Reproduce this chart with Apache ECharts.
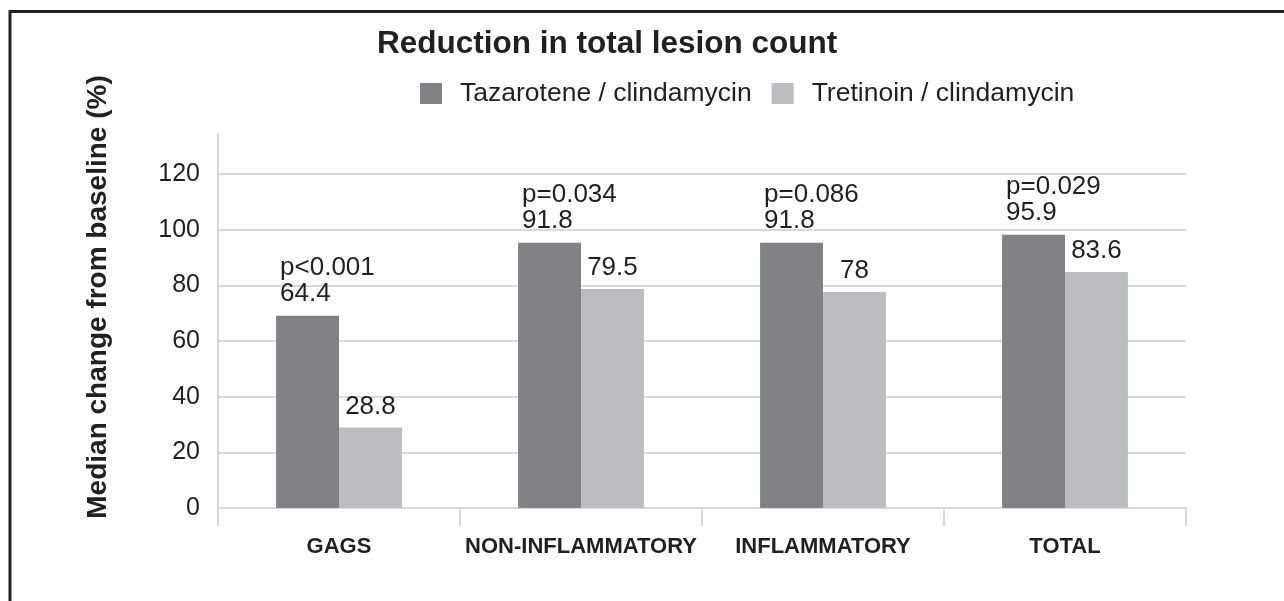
<!DOCTYPE html>
<html>
<head>
<meta charset="utf-8">
<title>Reduction in total lesion count</title>
<script src="https://cdn.jsdelivr.net/npm/echarts@6/dist/echarts.min.js"></script>
<style>
  html, body { margin: 0; padding: 0; background: #fff; }
  #chart { width: 1284px; height: 601px; }
</style>
</head>
<body>
<div id="chart"></div>
<script>
// categories and values
const categories = ['GAGS', 'NON-INFLAMMATORY', 'INFLAMMATORY', 'TOTAL']
const seriesNames = ['Tazarotene / clindamycin', 'Tretinoin / clindamycin']
// bar heights as drawn in the figure
const tazValues = [69.1, 95.3, 95.3, 98.2]
const tretValues = [28.9, 78.7, 77.6, 84.8]
// printed labels
const tazLabels = ['64.4', '91.8', '91.8', '95.9']
const tretLabels = ['28.8', '79.5', '78', '83.6']
const pValues = ['p<0.001', 'p=0.034', 'p=0.086', 'p=0.029']
const yMin = 0
const yMax = 120
const yStep = 20

const font = '"Liberation Sans", Arial, Helvetica, sans-serif'
const textColor = '#231f20'
const gridColor = '#d9d9d9'
const darkBar = '#818285'
const lightBar = '#bcbdc0'

const chart = echarts.init(document.getElementById('chart'), null, { renderer: 'canvas' })

chart.setOption({
  animation: false,
  backgroundColor: '#fff',
  textStyle: { fontFamily: font, color: textColor },
  title: {
    text: 'Reduction in total lesion count',
    left: 377,
    top: 28,
    padding: 0,
    textStyle: { fontFamily: font, fontSize: 31.5, fontWeight: 'bold', color: textColor }
  },
  legend: {
    data: seriesNames,
    left: 420,
    top: 80,
    padding: 0,
    icon: 'rect',
    itemWidth: 22,
    itemHeight: 21,
    itemGap: 20,
    textStyle: { fontFamily: font, fontSize: 26.5, color: textColor, padding: [0, 0, 0, 13], lineHeight: 26 }
  },
  grid: {
    left: 218,
    right: 98,
    top: 174,
    bottom: 93,
    containLabel: false
  },
  xAxis: {
    type: 'category',
    data: categories,
    axisLine: { lineStyle: { color: gridColor, width: 2 } },
    axisTick: { show: true, interval: 0, length: 18, lineStyle: { color: gridColor, width: 2 } },
    axisLabel: {
      interval: 0,
      margin: 28,
      fontFamily: font,
      fontSize: 22,
      fontWeight: 'bold',
      color: textColor
    }
  },
  yAxis: {
    type: 'value',
    min: yMin,
    max: yMax,
    interval: yStep,
    axisLine: { show: true, lineStyle: { color: gridColor, width: 2 } },
    axisTick: { show: false },
    splitLine: { lineStyle: { color: gridColor, width: 2 } },
    axisLabel: { margin: 18, fontFamily: font, fontSize: 25, color: textColor }
  },
  series: [{
    name: seriesNames[0],
    type: 'bar',
    data: tazValues,
    barWidth: '26%',
    barGap: '0%',
    itemStyle: { color: darkBar },
    label: {
      show: true,
      position: [4, -9],
      align: 'left',
      verticalAlign: 'bottom',
      fontFamily: font,
      fontSize: 26,
      lineHeight: 26,
      color: textColor,
      formatter: p => pValues[p.dataIndex] + '\n' + tazLabels[p.dataIndex]
    }
  }, {
    name: seriesNames[1],
    type: 'bar',
    data: tretValues,
    barWidth: '26%',
    barGap: '0%',
    itemStyle: { color: lightBar },
    label: {
      show: true,
      position: 'top',
      distance: 8,
      fontFamily: font,
      fontSize: 26,
      lineHeight: 26,
      color: textColor,
      formatter: p => tretLabels[p.dataIndex]
    }
  }],
  graphic: [{
    // outer frame
    type: 'rect',
    silent: true,
    shape: { x: 10, y: 11.5, width: 1400, height: 800 },
    style: { fill: 'none', stroke: textColor, lineWidth: 3 }
  }, {
    // y axis line runs a bit above the top gridline
    type: 'line',
    silent: true,
    shape: { x1: 218, y1: 133, x2: 218, y2: 174 },
    style: { stroke: gridColor, lineWidth: 2 }
  }, {
    type: 'text',
    silent: true,
    x: 98,
    y: 297,
    rotation: Math.PI / 2,
    style: {
      text: 'Median change from baseline (%)',
      font: 'bold 28px ' + font,
      fill: textColor,
      align: 'center',
      verticalAlign: 'middle'
    }
  }]
})
</script>
</body>
</html>
